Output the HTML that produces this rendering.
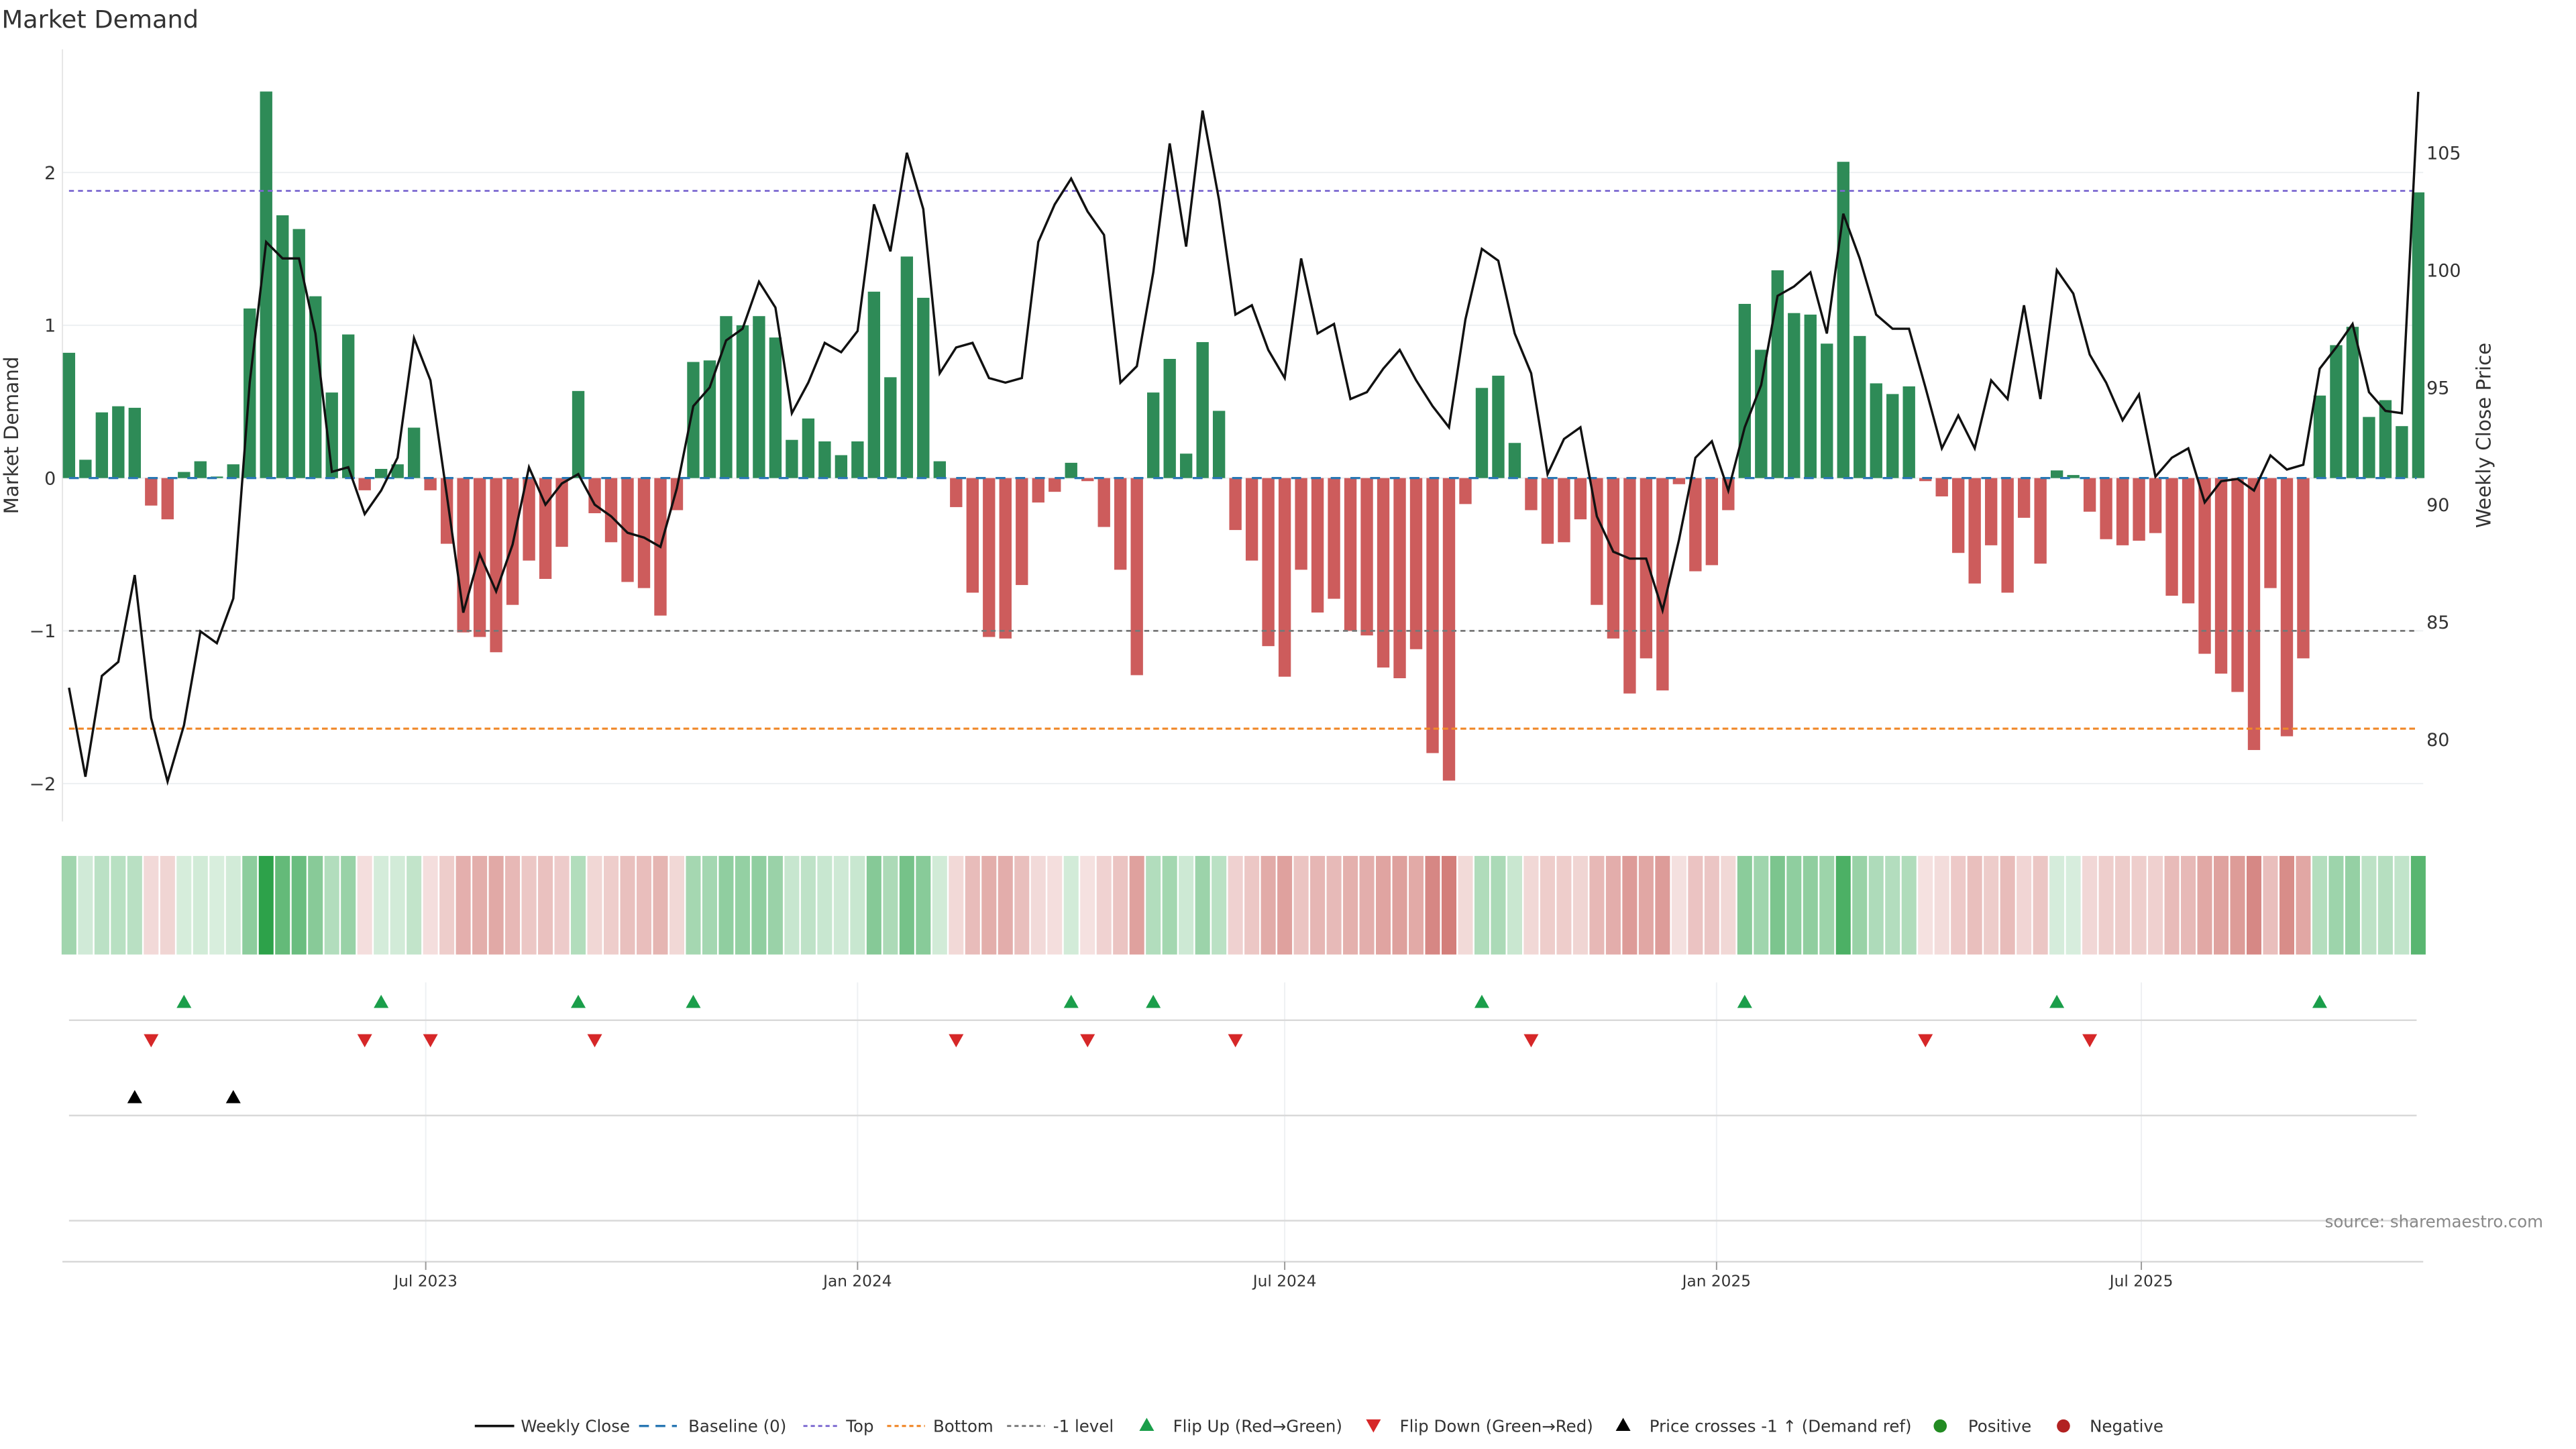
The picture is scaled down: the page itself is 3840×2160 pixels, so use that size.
<!DOCTYPE html>
<html><head><meta charset="utf-8"><style>
html,body{margin:0;padding:0;background:#fff;}
svg{display:block;font-family:"DejaVu Sans","Liberation Sans",sans-serif;}
</style></head><body>
<svg id="chart" width="3840" height="2160" viewBox="0 0 1568 882" xmlns="http://www.w3.org/2000/svg">
<text x="1" y="17" font-size="15" fill="#333">Market Demand</text>
<g id="main"></g>
<text transform="translate(11,265) rotate(-90)" text-anchor="middle" font-size="12" fill="#333">Market Demand</text>
<text transform="translate(1516,265) rotate(-90)" text-anchor="middle" font-size="12" fill="#333">Weekly Close Price</text>
<text x="1548" y="747" text-anchor="end" font-size="10" fill="#888">source: sharemaestro.com</text>
</svg>
<script>
const demand = [0.82,0.12,0.43,0.47,0.46,-0.18,-0.27,0.04,0.11,0.01,0.09,1.11,2.53,1.72,1.63,1.19,0.56,0.94,-0.08,0.06,0.09,0.33,-0.08,-0.43,-1.01,-1.04,-1.14,-0.83,-0.54,-0.66,-0.45,0.57,-0.23,-0.42,-0.68,-0.72,-0.90,-0.21,0.76,0.77,1.06,1.00,1.06,0.92,0.25,0.39,0.24,0.15,0.24,1.22,0.66,1.45,1.18,0.11,-0.19,-0.75,-1.04,-1.05,-0.70,-0.16,-0.09,0.10,-0.02,-0.32,-0.60,-1.29,0.56,0.78,0.16,0.89,0.44,-0.34,-0.54,-1.10,-1.30,-0.60,-0.88,-0.79,-1.00,-1.03,-1.24,-1.31,-1.12,-1.80,-1.98,-0.17,0.59,0.67,0.23,-0.21,-0.43,-0.42,-0.27,-0.83,-1.05,-1.41,-1.18,-1.39,-0.04,-0.61,-0.57,-0.21,1.14,0.84,1.36,1.08,1.07,0.88,2.07,0.93,0.62,0.55,0.60,-0.02,-0.12,-0.49,-0.69,-0.44,-0.75,-0.26,-0.56,0.05,0.02,-0.22,-0.40,-0.44,-0.41,-0.36,-0.77,-0.82,-1.15,-1.28,-1.40,-1.78,-0.72,-1.69,-1.18,0.54,0.87,0.99,0.40,0.51,0.34,1.87];
const price = [82.2,78.4,82.7,83.3,87.0,80.9,78.2,80.6,84.6,84.1,86.0,95.2,101.2,100.5,100.5,97.3,91.4,91.6,89.6,90.6,92.0,97.1,95.3,90.4,85.4,87.9,86.3,88.3,91.6,90.0,90.9,91.3,90.0,89.5,88.8,88.6,88.2,90.7,94.2,95.0,97.0,97.5,99.5,98.4,93.9,95.2,96.9,96.5,97.4,102.8,100.8,105.0,102.6,95.6,96.7,96.9,95.4,95.2,95.4,101.2,102.8,103.9,102.5,101.5,95.2,95.9,99.9,105.4,101.0,106.8,103.0,98.1,98.5,96.6,95.4,100.5,97.3,97.7,94.5,94.8,95.8,96.6,95.3,94.2,93.3,97.9,100.9,100.4,97.3,95.6,91.3,92.8,93.3,89.5,88.0,87.7,87.7,85.5,88.5,92.0,92.7,90.6,93.3,95.1,98.9,99.3,99.9,97.3,102.4,100.5,98.1,97.5,97.5,95.0,92.4,93.8,92.4,95.3,94.5,98.5,94.5,100.0,99.0,96.4,95.2,93.6,94.7,91.2,92.0,92.4,90.1,91.0,91.1,90.6,92.1,91.5,91.7,95.8,96.7,97.7,94.8,94.0,93.9,107.6];
const flipUpIdx = [7,19,31,38,61,66,86,102,121,137];
const flipDownIdx = [5,18,22,32,54,62,71,89,113,123];
const priceCrossIdx = [4,10];
const demandTicks = [2,1,0,-1,-2];
const priceTicks = [80,85,90,95,100,105];
const levelTop = 1.88, levelBottom = -1.64, levelMinus1 = -1;
const xTickDates = ["2023-07-01","2024-01-01","2024-07-01","2025-01-01","2025-07-01"];
const xTickLabels = ["Jul 2023","Jan 2024","Jul 2024","Jan 2025","Jul 2025"];
const startDate = "2023-01-30";

const NS="http://www.w3.org/2000/svg";
const g=document.getElementById('main');
function el(tag,attrs,parent){const e=document.createElementNS(NS,tag);for(const k in attrs)e.setAttribute(k,attrs[k]);(parent||g).appendChild(e);return e;}
const t0=Date.parse(startDate);
function xIdx(i){return 42+i*10;}
function xDate(d){return 42+(Date.parse(d)-t0)/86400000/7*10;}
function yL(v){return 291-v*93;}
function yR(p){return 93+(105-p)*14.28;}
const X0=38,X1=1475;

demandTicks.forEach(v=>{
  const l=el('line',{x1:X0,x2:X1,y1:yL(v),y2:yL(v),stroke:'#edf0f2','stroke-width':0.8});
  
  
  const t=el('text',{x:34,y:yL(v)+4,'text-anchor':'end','font-size':11,fill:'#333'});
  t.textContent=v<0?'\u2212'+Math.abs(v):String(v);
  
  
});
const ax=el('line',{x1:X0,x2:X0,y1:30,y2:500,stroke:'#e6e6e6','stroke-width':0.8});


priceTicks.forEach(p=>{
  const t=el('text',{x:1477,y:yR(p)+4,'font-size':11,fill:'#333'});
  t.textContent=String(p);
  
  
});
demand.forEach((v,i)=>{
  const y=Math.min(yL(v),yL(0)),h=Math.abs(yL(v)-yL(0));
  const r=el('rect',{x:xIdx(i)-3.75,y:y,width:7.5,height:Math.max(h,0.3),fill:v>=0?'#2e8b57':'#cd5c5c'});
  
  
});
[[levelTop,'#7b68d0','level-top'],[levelMinus1,'#777','level-minus-1'],[levelBottom,'#f0882a','level-bottom']].forEach(a=>{
  const l=el('line',{x1:42,x2:1471,y1:yL(a[0]),y2:yL(a[0]),stroke:a[1],'stroke-width':a[2]==='level-bottom'?1.3:1.1,'stroke-dasharray':a[2]==='level-bottom'?'3.5,2':'3,2.5'});
  
  
});
const bl=el('line',{x1:42,x2:1471,y1:yL(0),y2:yL(0),stroke:'#2a78b4','stroke-width':1.3,'stroke-dasharray':'6,6'});


const pts=price.map((p,i)=>xIdx(i)+','+yR(p).toFixed(1)).join(' ');
const pl=el('polyline',{points:pts,fill:'none',stroke:'#111','stroke-width':1.4,'stroke-linejoin':'miter'});


function mix(a,b,t){return 'rgb('+a.map((c,k)=>Math.round(c+(b[k]-c)*t)).join(',')+')';}
demand.forEach((v,i)=>{
  const t=Math.min(1,0.18+0.82*Math.abs(v)/2.6);
  const c=v>=0?mix([255,255,255],[40,160,70],t):mix([255,255,255],[200,95,90],t);
  const r=el('rect',{x:xIdx(i)-4.5,y:521,width:9,height:60,fill:c});
  
  
});
xTickDates.forEach(d=>{
  const l=el('line',{x1:xDate(d),x2:xDate(d),y1:598,y2:768,stroke:'#eef0f3','stroke-width':0.8});
  
  
});
[621,679,743].forEach(y=>{
  const l=el('line',{x1:42,x2:1471,y1:y,y2:y,stroke:'#d9d9d9','stroke-width':1});
  
  
});
function tri(x,y,up,color,name){
  const d=up?`M${x-4.5},${y+4} L${x+4.5},${y+4} L${x},${y-4} Z`:`M${x-4.5},${y-4} L${x+4.5},${y-4} L${x},${y+4} Z`;
  const p=el('path',{d:d,fill:color});
  
  
}
flipUpIdx.forEach(i=>tri(xIdx(i),609.5,true,'#1a9e4a','flip-up-marker'));
flipDownIdx.forEach(i=>tri(xIdx(i),633.5,false,'#d62728','flip-down-marker'));
priceCrossIdx.forEach(i=>tri(xIdx(i),667.5,true,'#000','price-cross-marker'));
const xa=el('line',{x1:X0,x2:X1,y1:768,y2:768,stroke:'#d6d6d6','stroke-width':1});


xTickDates.forEach((d,k)=>{
  const x=xDate(d);
  const tk=el('line',{x1:x,x2:x,y1:768,y2:773,stroke:'#999','stroke-width':0.8});
  
  
  const t=el('text',{x:x,y:783,'text-anchor':'middle','font-size':9.5,fill:'#333'});
  t.textContent=xTickLabels[k];
  
  
});
const LY=868;
function legText(x,s){const t=el('text',{x:x,y:LY+3.5,'font-size':10,fill:'#333'});t.textContent=s;}
function legLine(x1,x2,c,dash,w,name){const l=el('line',{x1:x1,x2:x2,y1:LY,y2:LY,stroke:c,'stroke-width':w,'stroke-dasharray':dash});}
legLine(289,313,'#111','none',1.5,'legend-weekly-close');legText(317,'Weekly Close');
legLine(389,412,'#2a78b4','6,4',1.4,'legend-baseline');legText(419,'Baseline (0)');
legLine(489,511,'#7b68d0','2.5,2',1.2,'legend-top');legText(515,'Top');
legLine(540,563,'#f0882a','2.5,2',1.3,'legend-bottom');legText(568,'Bottom');
legLine(613,636,'#777','2.5,2',1.2,'legend-minus-1-level');legText(641,'-1 level');
tri(698,LY-1,true,'#1a9e4a','legend-flip-up');legText(714,'Flip Up (Red\u2192Green)');
tri(836,LY,false,'#d62728','legend-flip-down');legText(852,'Flip Down (Green\u2192Red)');
tri(988,LY-1,true,'#000','legend-price-cross');legText(1004,'Price crosses -1 \u2191 (Demand ref)');
const c1=el('circle',{cx:1181,cy:LY,r:4,fill:'#228b22'});legText(1198,'Positive');
const c2=el('circle',{cx:1256,cy:LY,r:4,fill:'#b22222'});legText(1272,'Negative');
</script>
</body></html>
